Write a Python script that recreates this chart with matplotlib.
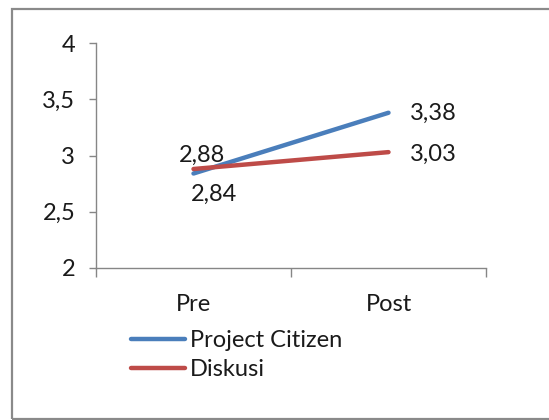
import matplotlib
matplotlib.use("Agg")
import matplotlib.pyplot as plt
from matplotlib.patches import Rectangle

categories = ["Pre", "Post"]
series_names = ["Project Citizen", "Diskusi"]
project_citizen = [2.84, 3.38]
diskusi = [2.88, 3.03]
yticks = [2, 2.5, 3, 3.5, 4]
ytick_labels = ["2", "2,5", "3", "3,5", "4"]

plt.rcParams['font.family'] = ['Lato', 'DejaVu Sans']
FS = 17
W, H = 549, 420
fig = plt.figure(figsize=(W/100, H/100), dpi=100)
fig.patch.set_facecolor("white")

# outer border
fig.add_artist(Rectangle((12/W, 1-419/H), 560/W, (419-9)/H, transform=fig.transFigure,
                         fill=False, edgecolor="#8a8a8a", linewidth=1.6, clip_on=False))

ax = fig.add_axes([96/W, 1-268/H, (486-96)/W, (268-43)/H])
ax.set_facecolor("white")
x = list(range(len(categories)))
blue = "#4a7ebb"
red = "#be4b48"
ax.plot(x, project_citizen, color=blue, lw=3.2, solid_capstyle="round", label=series_names[0], zorder=3)
ax.plot(x, diskusi, color=red, lw=3.2, solid_capstyle="round", label=series_names[1], zorder=4)

ax.set_xlim(-0.5, len(categories)-0.5)
ax.set_ylim(2, 4)
ax.set_yticks(yticks)
ax.set_yticklabels(ytick_labels)
ax.set_xticks([i-0.5 for i in range(len(categories)+1)])
ax.set_xticklabels([])
ax.set_xticks(x, minor=True)
ax.set_xticklabels(categories, minor=True)

gray = "#868686"
for s in ["top", "right"]:
    ax.spines[s].set_visible(False)
for s in ["left", "bottom"]:
    ax.spines[s].set_color(gray)
    ax.spines[s].set_linewidth(1.0)
ax.tick_params(axis="y", direction="out", length=5, width=1.0, color=gray, labelsize=FS, pad=10, labelcolor="#1a1a1a")
ax.tick_params(axis="x", which="major", direction="out", length=6.5, width=1.0, color=gray)
ax.tick_params(axis="x", which="minor", length=0, labelsize=FS, pad=18.5, labelcolor="#1a1a1a")

def lab(v):
    return f"{v:.2f}".replace(".", ",")

# data labels
ax.annotate(lab(diskusi[0]), (x[0], diskusi[0]), xytext=(8, 14), textcoords="offset pixels",
            ha="center", va="center", fontsize=FS, color="#1a1a1a")
ax.annotate(lab(project_citizen[0]), (x[0], project_citizen[0]), xytext=(20, -21), textcoords="offset pixels",
            ha="center", va="center", fontsize=FS, color="#1a1a1a")
ax.annotate(lab(project_citizen[1]), (x[1], project_citizen[1]), xytext=(21, -1), textcoords="offset pixels",
            ha="left", va="center", fontsize=FS, color="#1a1a1a")
ax.annotate(lab(diskusi[1]), (x[1], diskusi[1]), xytext=(21, -2), textcoords="offset pixels",
            ha="left", va="center", fontsize=FS, color="#1a1a1a")

leg = fig.legend(loc="upper left", bbox_to_anchor=(131/W, 1-330/H), frameon=False, fontsize=FS,
                 handlelength=2.3, handletextpad=0.2, labelspacing=0.36, borderpad=0, borderaxespad=0)
for t in leg.get_texts():
    t.set_color("#1a1a1a")

fig.savefig("out.png", dpi=100, facecolor="white")
